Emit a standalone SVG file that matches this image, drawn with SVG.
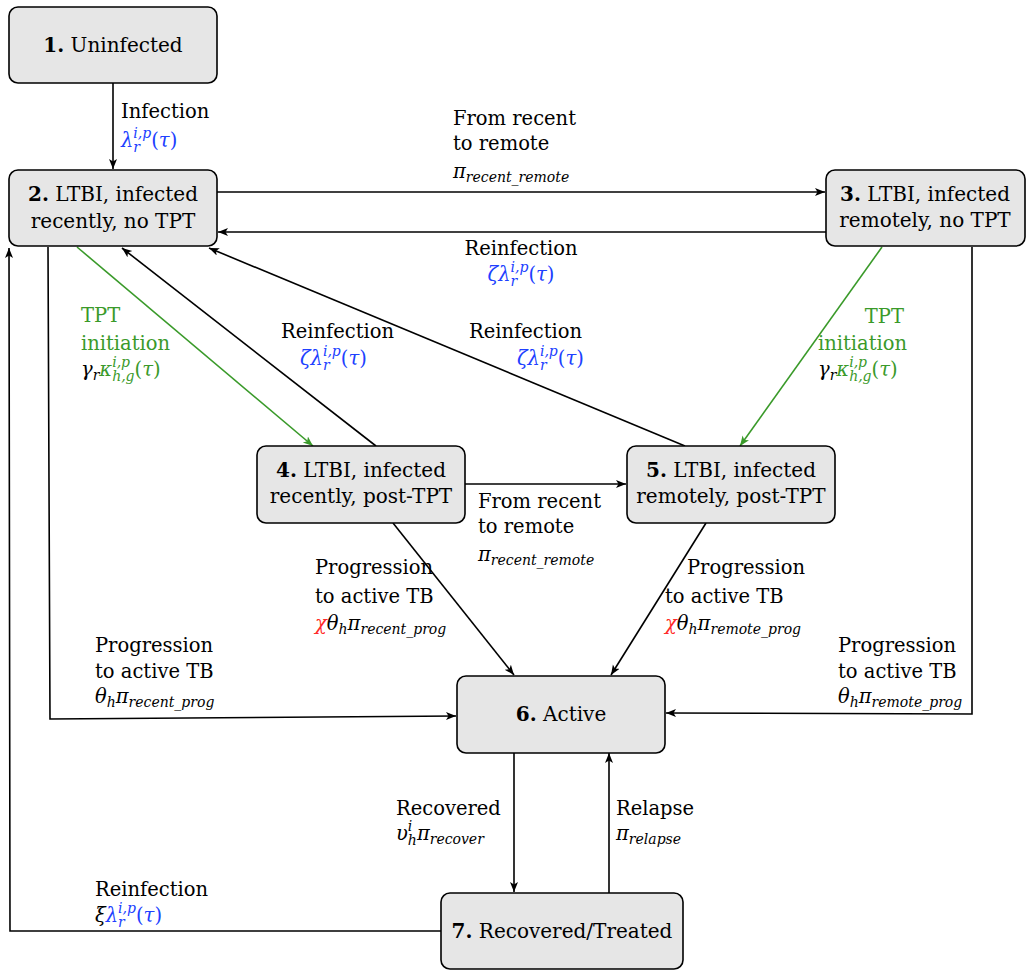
<svg xmlns="http://www.w3.org/2000/svg" width="1026" height="971" viewBox="0 0 1026 971" font-family="DejaVu Serif">
<style>
.t{font-size:19.5px;fill:#000}
.n{font-size:20px}
.i{font-style:italic}
.s{font-size:14px}
.b{font-weight:bold}
.bl{fill:#2040ff}
.gr{fill:#3a9a2a}
.rd{fill:#ff2a2a}
.bk{fill:#000}
.node rect{fill:#e6e6e6;stroke:#000;stroke-width:1.6}
.c{fill:none;stroke:#000;stroke-width:1.6}
.cg{fill:none;stroke:#3a9a2a;stroke-width:1.6}
</style>
<defs>
<marker id="a" markerUnits="userSpaceOnUse" markerWidth="11" markerHeight="9" refX="10" refY="4" orient="auto"><path d="M0,0 L10,4 L0,8 L2.5,4 z" fill="#000"/></marker>
<marker id="ag" markerUnits="userSpaceOnUse" markerWidth="11" markerHeight="9" refX="10" refY="4" orient="auto"><path d="M0,0 L10,4 L0,8 L2.5,4 z" fill="#3a9a2a"/></marker>
</defs>
<g id="connectors">
<path class="c" d="M113,83 L113,169" marker-end="url(#a)"/>
<path class="c" d="M217,192 L825,192" marker-end="url(#a)"/>
<path class="c" d="M826,232 L218,232" marker-end="url(#a)"/>
<path class="cg" d="M77,247 L313,446" marker-end="url(#ag)"/>
<path class="c" d="M376,446 L122,248" marker-end="url(#a)"/>
<path class="c" d="M685,446 L209,248" marker-end="url(#a)"/>
<path class="cg" d="M882,247 L740,446" marker-end="url(#ag)"/>
<path class="c" d="M465,484 L626,484" marker-end="url(#a)"/>
<path class="c" d="M393,523 L514,675" marker-end="url(#a)"/>
<path class="c" d="M706,523 L611,675" marker-end="url(#a)"/>
<path class="c" d="M48,247 L50,719 L456,716" marker-end="url(#a)"/>
<path class="c" d="M972,247 L972,714 L666,713" marker-end="url(#a)"/>
<path class="c" d="M514,753 L514,892" marker-end="url(#a)"/>
<path class="c" d="M609,893 L609,753" marker-end="url(#a)"/>
<path class="c" d="M441,931 L10,931 L9,248" marker-end="url(#a)"/>
</g>
<g id="labels">
<text class="t" x="121" y="118">Infection</text>
<text class="t bl" x="121" y="147"><tspan class="i">λ</tspan><tspan class="i s" dy="-9">i,p</tspan><tspan class="i s" dx="-17.9" dy="14">r</tspan><tspan dx="11.2" dy="-5">(</tspan><tspan class="i">τ</tspan>)</text>

<text class="t" x="453" y="125">From recent</text>
<text class="t" x="453" y="150">to remote</text>
<text class="t" x="453" y="178"><tspan class="i">π</tspan><tspan class="i s" dy="4">recent_remote</tspan></text>

<text class="t" x="521" y="255" text-anchor="middle">Reinfection</text>
<text class="t bl" x="521" y="281" text-anchor="middle"><tspan class="i">ζλ</tspan><tspan class="i s" dy="-9">i,p</tspan><tspan class="i s" dx="-17.9" dy="14">r</tspan><tspan dx="11.2" dy="-5">(</tspan><tspan class="i">τ</tspan>)</text>

<text class="t gr" x="81" y="322">TPT</text>
<text class="t gr" x="81" y="350">initiation</text>
<text class="t" x="81" y="376"><tspan class="i bk">γ</tspan><tspan class="i s bk" dy="4">r</tspan><tspan class="i gr" dy="-4">κ</tspan><tspan class="i s gr" dy="-9">i,p</tspan><tspan class="i s gr" dx="-17.9" dy="14">h,g</tspan><tspan class="gr" dy="-5">(</tspan><tspan class="i gr">τ</tspan><tspan class="gr">)</tspan></text>

<text class="t" x="281" y="338">Reinfection</text>
<text class="t bl" x="300" y="365"><tspan class="i">ζλ</tspan><tspan class="i s" dy="-9">i,p</tspan><tspan class="i s" dx="-17.9" dy="14">r</tspan><tspan dx="11.2" dy="-5">(</tspan><tspan class="i">τ</tspan>)</text>

<text class="t" x="469" y="338">Reinfection</text>
<text class="t bl" x="517" y="365"><tspan class="i">ζλ</tspan><tspan class="i s" dy="-9">i,p</tspan><tspan class="i s" dx="-17.9" dy="14">r</tspan><tspan dx="11.2" dy="-5">(</tspan><tspan class="i">τ</tspan>)</text>

<text class="t gr" x="904" y="323" text-anchor="end">TPT</text>
<text class="t gr" x="818" y="350">initiation</text>
<text class="t" x="818" y="376"><tspan class="i bk">γ</tspan><tspan class="i s bk" dy="4">r</tspan><tspan class="i gr" dy="-4">κ</tspan><tspan class="i s gr" dy="-9">i,p</tspan><tspan class="i s gr" dx="-17.9" dy="14">h,g</tspan><tspan class="gr" dy="-5">(</tspan><tspan class="i gr">τ</tspan><tspan class="gr">)</tspan></text>

<text class="t" x="478" y="508">From recent</text>
<text class="t" x="478" y="533">to remote</text>
<text class="t" x="478" y="561"><tspan class="i">π</tspan><tspan class="i s" dy="4">recent_remote</tspan></text>

<text class="t" x="315" y="574">Progression</text>
<text class="t" x="315" y="603">to active TB</text>
<text class="t" x="315" y="630"><tspan class="i rd">χ</tspan><tspan class="i">θ</tspan><tspan class="i s" dy="4">h</tspan><tspan class="i" dy="-4">π</tspan><tspan class="i s" dy="4">recent_prog</tspan></text>

<text class="t" x="687" y="574">Progression</text>
<text class="t" x="665" y="603">to active TB</text>
<text class="t" x="665" y="630"><tspan class="i rd">χ</tspan><tspan class="i">θ</tspan><tspan class="i s" dy="4">h</tspan><tspan class="i" dy="-4">π</tspan><tspan class="i s" dy="4">remote_prog</tspan></text>

<text class="t" x="95" y="652">Progression</text>
<text class="t" x="95" y="678">to active TB</text>
<text class="t" x="95" y="703"><tspan class="i">θ</tspan><tspan class="i s" dy="4">h</tspan><tspan class="i" dy="-4">π</tspan><tspan class="i s" dy="4">recent_prog</tspan></text>

<text class="t" x="838" y="652">Progression</text>
<text class="t" x="838" y="678">to active TB</text>
<text class="t" x="838" y="703"><tspan class="i">θ</tspan><tspan class="i s" dy="4">h</tspan><tspan class="i" dy="-4">π</tspan><tspan class="i s" dy="4">remote_prog</tspan></text>

<text class="t" x="396" y="815">Recovered</text>
<text class="t" x="396" y="840"><tspan class="i">υ</tspan><tspan class="i s" dy="-9">i</tspan><tspan class="i s" dx="-4.5" dy="14">h</tspan><tspan class="i" dy="-5">π</tspan><tspan class="i s" dy="4">recover</tspan></text>

<text class="t" x="616" y="815">Relapse</text>
<text class="t" x="616" y="840"><tspan class="i">π</tspan><tspan class="i s" dy="4">relapse</tspan></text>

<text class="t" x="95" y="896">Reinfection</text>
<text class="t" x="95" y="922"><tspan class="i">ξ</tspan><tspan class="i bl">λ</tspan><tspan class="i s bl" dy="-9">i,p</tspan><tspan class="i s bl" dx="-17.9" dy="14">r</tspan><tspan class="bl" dx="11.2" dy="-5">(</tspan><tspan class="i bl">τ</tspan><tspan class="bl">)</tspan></text>
</g>
<g id="n1" class="node"><rect x="9" y="7" width="208" height="76" rx="9"/><text class="t n" x="113" y="52" text-anchor="middle"><tspan class="b">1.</tspan> Uninfected</text></g>
<g id="n2" class="node"><rect x="9" y="170" width="208" height="76" rx="9"/><text class="t n" x="113" y="201" text-anchor="middle"><tspan class="b">2.</tspan> LTBI, infected</text><text class="t n" x="113" y="228" text-anchor="middle">recently, no TPT</text></g>
<g id="n3" class="node"><rect x="826" y="170" width="199" height="76" rx="9"/><text class="t n" x="925" y="201" text-anchor="middle"><tspan class="b">3.</tspan> LTBI, infected</text><text class="t n" x="925" y="227" text-anchor="middle">remotely, no TPT</text></g>
<g id="n4" class="node"><rect x="257" y="446" width="208" height="77" rx="9"/><text class="t n" x="361" y="477" text-anchor="middle"><tspan class="b">4.</tspan> LTBI, infected</text><text class="t n" x="361" y="503" text-anchor="middle">recently, post-TPT</text></g>
<g id="n5" class="node"><rect x="627" y="446" width="208" height="77" rx="9"/><text class="t n" x="731" y="477" text-anchor="middle"><tspan class="b">5.</tspan> LTBI, infected</text><text class="t n" x="731" y="503" text-anchor="middle">remotely, post-TPT</text></g>
<g id="n6" class="node"><rect x="457" y="676" width="208" height="77" rx="9"/><text class="t n" x="561" y="721" text-anchor="middle"><tspan class="b">6.</tspan> Active</text></g>
<g id="n7" class="node"><rect x="441" y="893" width="242" height="76" rx="9"/><text class="t n" x="562" y="938" text-anchor="middle"><tspan class="b">7.</tspan> Recovered/Treated</text></g>
</svg>
